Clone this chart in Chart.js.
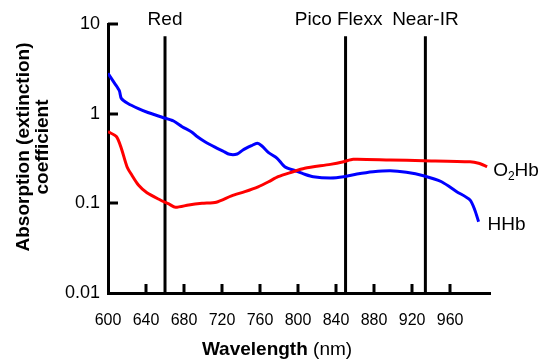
<!DOCTYPE html>
<html>
<head>
<meta charset="utf-8">
<script src="https://cdn.jsdelivr.net/npm/chart.js@4.4.1/dist/chart.umd.min.js"></script>
<style>
  html, body { margin: 0; padding: 0; background: #fff; }
  #chart { display: block; }
</style>
</head>
<body>
<canvas id="chart" width="546" height="360"></canvas>
<script>
// --- Data (wavelength in nm, extinction coefficient) ---
const hhbWavelength = [600, 607, 612, 614, 621, 632, 642, 657, 669, 678, 688, 693, 702, 713, 721,
                       728, 736, 742, 751, 757, 762, 769, 778, 786, 797, 807, 816, 834, 848, 862,
                       879, 897, 914, 932, 951, 967, 981, 986, 990];
const hhbValues = [2.82, 2.18, 1.80, 1.48, 1.30, 1.14, 1.03, 0.912, 0.828, 0.716, 0.625, 0.563, 0.486, 0.421, 0.383,
                   0.352, 0.355, 0.394, 0.440, 0.468, 0.436, 0.367, 0.318, 0.256, 0.231, 0.211, 0.198, 0.192, 0.198, 0.212,
                   0.225, 0.231, 0.222, 0.203, 0.174, 0.135, 0.109, 0.0843, 0.0624];

const o2hbWavelength = [600, 609, 614, 620, 625, 632, 641, 655, 664, 671, 685, 699, 714, 730,
                        744, 758, 769, 779, 793, 807, 834, 848, 858, 897, 932, 981, 990, 999];
const o2hbValues = [0.630, 0.553, 0.411, 0.256, 0.207, 0.160, 0.131, 0.109, 0.0984, 0.0903, 0.0959, 0.100, 0.103, 0.121,
                    0.135, 0.153, 0.174, 0.198, 0.222, 0.246, 0.272, 0.291, 0.310, 0.304, 0.299, 0.291, 0.280, 0.256];

const markerWavelengths = [660, 850, 934];
const markerLabels = ['Red', 'Pico Flexx', 'Near-IR'];
const markerTop = 7.3;

const xTicks = [600, 640, 680, 720, 760, 800, 840, 880, 920, 960];
const yTicks = [0.01, 0.1, 1, 10];

const FONT = '"Liberation Sans", Arial, sans-serif';
const labelNudge = [0, -7, 0]; // Pico Flexx sits a little left of its line

const toPoints = (xs, ys) => xs.map((w, i) => ({ x: w, y: ys[i] }));

const curveStyle = { borderWidth: 3, pointRadius: 0, tension: 0.25, fill: false };

const datasets = [
    { label: 'O2Hb', data: toPoints(o2hbWavelength, o2hbValues), borderColor: '#ff0000', ...curveStyle },
    { label: 'HHb', data: toPoints(hhbWavelength, hhbValues), borderColor: '#0000ff', ...curveStyle }
];
markerWavelengths.forEach((w, i) => {
    datasets.push({
        label: markerLabels[i],
        data: [{ x: w, y: yTicks[0] }, { x: w, y: markerTop }],
        borderColor: '#000', borderWidth: 3, pointRadius: 0
    });
});

// text and inward tick marks that Chart.js can't draw itself
const annotations = {
    id: 'annotations',
    afterDraw(chart) {
        const { ctx, chartArea, scales: { x, y } } = chart;
        ctx.save();
        ctx.strokeStyle = '#000';
        ctx.lineWidth = 3;
        xTicks.slice(1).forEach(v => {
            const px = Math.round(x.getPixelForValue(v));
            ctx.beginPath();
            ctx.moveTo(px, chartArea.bottom);
            ctx.lineTo(px, chartArea.bottom - 9);
            ctx.stroke();
        });
        yTicks.slice(1).forEach(v => {
            const py = Math.round(y.getPixelForValue(v));
            ctx.beginPath();
            ctx.moveTo(chartArea.left, py);
            ctx.lineTo(chartArea.left + 10, py);
            ctx.stroke();
        });

        ctx.fillStyle = '#000';
        ctx.textBaseline = 'alphabetic';

        // marker labels above the vertical lines
        ctx.font = '19px ' + FONT;
        ctx.textAlign = 'center';
        markerWavelengths.forEach((w, i) => {
            ctx.fillText(markerLabels[i], x.getPixelForValue(w) + labelNudge[i], 25);
        });

        // series labels at the right end of each curve
        ctx.textAlign = 'left';
        const oEnd = chart.getDatasetMeta(0).data.at(-1);
        let lx = oEnd.x + 6, ly = oEnd.y + 9;
        ctx.font = '19px ' + FONT;
        ctx.fillText('O', lx, ly);
        lx += ctx.measureText('O').width;
        ctx.font = '12px ' + FONT;
        ctx.fillText('2', lx, ly + 4);
        lx += ctx.measureText('2').width;
        ctx.font = '19px ' + FONT;
        ctx.fillText('Hb', lx, ly);

        const hEnd = chart.getDatasetMeta(1).data.at(-1);
        ctx.fillText('HHb', hEnd.x + 9, hEnd.y + 8);

        // x axis title, bold + normal
        ctx.font = 'bold 19px ' + FONT;
        const wBold = ctx.measureText('Wavelength').width;
        ctx.font = '19px ' + FONT;
        const wNorm = ctx.measureText(' (nm)').width;
        let tx = 277 - (wBold + wNorm) / 2;
        ctx.font = 'bold 19px ' + FONT;
        ctx.fillText('Wavelength', tx, 355);
        ctx.font = '19px ' + FONT;
        ctx.fillText(' (nm)', tx + wBold, 355);

        // y axis title, two lines rotated
        ctx.font = 'bold 19px ' + FONT;
        ctx.textAlign = 'center';
        ctx.textBaseline = 'middle';
        ctx.translate(0, 147);
        ctx.rotate(-Math.PI / 2);
        ctx.fillText('Absorption (extinction)', 0, 24);
        ctx.fillText('coefficient', 0, 43);
        ctx.restore();
    }
};

new Chart(document.getElementById('chart'), {
    type: 'line',
    data: { datasets },
    plugins: [annotations],
    options: {
        responsive: false,
        animation: false,
        layout: { padding: { top: 24, right: 56, left: 0, bottom: 0 } },
        plugins: { legend: { display: false }, tooltip: { enabled: false } },
        scales: {
            x: {
                type: 'linear',
                min: 600,
                max: 1002,
                afterBuildTicks: scale => { scale.ticks = xTicks.map(v => ({ value: v })); },
                afterFit: scale => { scale.height = 67; },
                grid: { display: false, drawTicks: false },
                border: { display: true, color: '#000', width: 3 },
                ticks: { color: '#000', font: { family: FONT, size: 16 }, padding: 18, maxRotation: 0, autoSkip: false }
            },
            y: {
                type: 'logarithmic',
                min: 0.01,
                max: 10,
                afterBuildTicks: scale => { scale.ticks = yTicks.map(v => ({ value: v })); },
                afterFit: scale => { scale.width = 108; },
                grid: { display: false, drawTicks: false },
                border: { display: true, color: '#000', width: 3 },
                ticks: { color: '#000', font: { family: FONT, size: 18 }, padding: 8, callback: v => String(v) }
            }
        }
    }
});
</script>
</body>
</html>
